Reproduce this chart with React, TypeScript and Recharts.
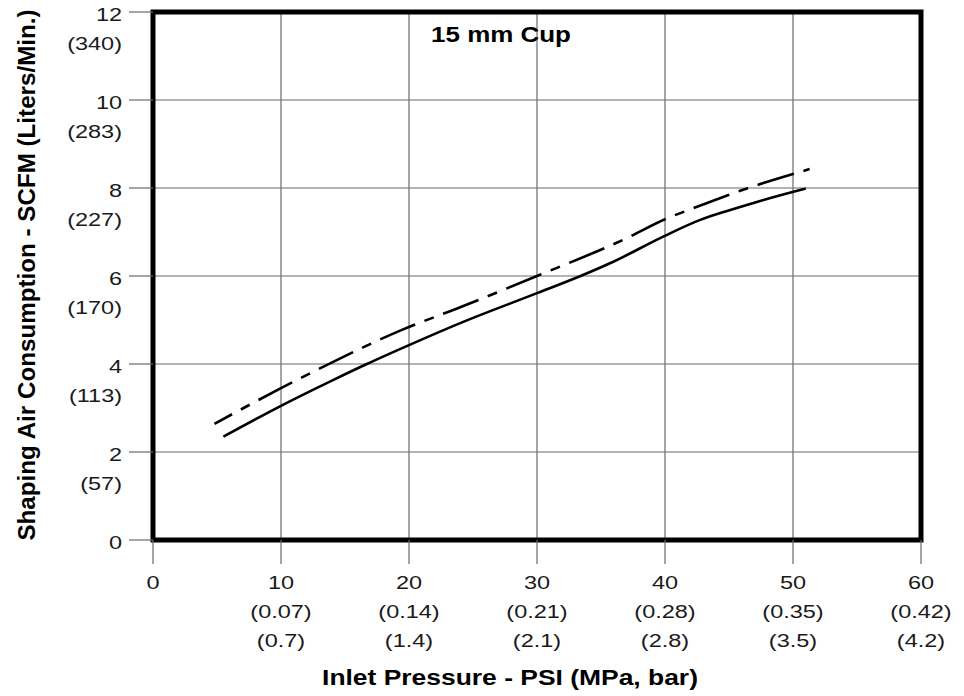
import { LineChart, Line, XAxis, YAxis, CartesianGrid, ReferenceArea } from 'recharts';

// axis ticks and secondary unit labels
const psiTicks = [0, 10, 20, 30, 40, 50, 60];
const mpaLabels = ['', '(0.07)', '(0.14)', '(0.21)', '(0.28)', '(0.35)', '(0.42)'];
const barLabels = ['', '(0.7)', '(1.4)', '(2.1)', '(2.8)', '(3.5)', '(4.2)'];
const scfmTicks = [0, 2, 4, 6, 8, 10, 12];
const litersLabels = ['', '(57)', '(113)', '(170)', '(227)', '(283)', '(340)'];

// solid curve
const solidPsi = [5.5, 10, 14.1, 16.7, 20, 24, 30, 33.4, 36, 39.9, 42.7, 45.1, 47.7, 51];
const solidScfm = [2.35, 3.05, 3.64, 4.0, 4.43, 4.93, 5.61, 6.0, 6.33, 6.9, 7.27, 7.5, 7.73, 7.99];

// dash-dot curve
const dashPsi = [4.8, 10, 13.6, 19.4, 24, 30, 37, 40, 42.2, 46.4, 51.3];
const dashScfm = [2.64, 3.45, 3.98, 4.77, 5.29, 6.0, 6.86, 7.29, 7.54, 7.99, 8.43];

const solidData = solidPsi.map((psi, i) => ({ psi, scfm: solidScfm[i] }));
const dashData = dashPsi.map((psi, i) => ({ psi, scfm: dashScfm[i] }));

const FONT = '"Liberation Sans", Arial, Helvetica, sans-serif';
const GRID = '#6a6a6a';

function XTick(props: any) {
  const { x, y, payload } = props;
  const i = psiTicks.indexOf(payload.value);
  const lines = [String(payload.value), mpaLabels[i], barLabels[i]].filter(Boolean);
  return (
    <g>
      {lines.map((t, k) => (
        <text
          key={k}
          transform={`translate(${x},${y + 25 + k * 29}) scale(1.27,1)`}
          textAnchor="middle"
          fontSize={18.5}
          fill="#1a1a1a"
          fontFamily={FONT}
        >
          {t}
        </text>
      ))}
    </g>
  );
}

function YTick(props: any) {
  const { x, y, payload } = props;
  const i = scfmTicks.indexOf(payload.value);
  const lines = [String(payload.value), litersLabels[i]].filter(Boolean);
  return (
    <g>
      {lines.map((t, k) => (
        <text
          key={k}
          transform={`translate(${x - 7},${y + 9 + k * 29}) scale(1.27,1)`}
          textAnchor="end"
          fontSize={18.5}
          fill="#1a1a1a"
          fontFamily={FONT}
        >
          {t}
        </text>
      ))}
    </g>
  );
}

export default function App() {
  return (
    <div style={{ position: 'absolute', left: 0, top: 0, background: '#fff' }}>
      <LineChart width={964} height={696} margin={{ top: 12, right: 43, bottom: 56, left: 93 }}>
        <CartesianGrid stroke={GRID} strokeWidth={1.2} />
        <XAxis
          dataKey="psi"
          type="number"
          domain={[0, 60]}
          ticks={psiTicks}
          height={100}
          axisLine={false}
          tickSize={24}
          tickMargin={0}
          tickLine={{ stroke: GRID, strokeWidth: 1.2 }}
          tick={<XTick />}
          interval={0}
        />
        <YAxis
          type="number"
          domain={[0, 12]}
          ticks={scfmTicks}
          width={60}
          axisLine={false}
          tickSize={24}
          tickMargin={0}
          tickLine={{ stroke: GRID, strokeWidth: 1.2 }}
          tick={<YTick />}
          interval={0}
        />
        <Line
          data={dashData}
          dataKey="scfm"
          type="monotone"
          stroke="#000"
          strokeWidth={2.6}
          strokeDasharray="38 10 10 10"
          strokeDashoffset={18}
          dot={false}
          activeDot={false}
          isAnimationActive={false}
        />
        <Line
          data={solidData}
          dataKey="scfm"
          type="monotone"
          stroke="#000"
          strokeWidth={2.6}
          dot={false}
          activeDot={false}
          isAnimationActive={false}
        />
        <ReferenceArea x1={0} x2={60} y1={0} y2={12} fill="none" stroke="#000" strokeWidth={5} />
        <text
          transform="translate(501,42) scale(1.18,1)"
          textAnchor="middle"
          fontSize={22}
          fontWeight="bold"
          fill="#000"
          fontFamily={FONT}
        >
          15 mm Cup
        </text>
        <text
          transform="translate(510,685) scale(1.23,1)"
          textAnchor="middle"
          fontSize={21.5}
          fontWeight="bold"
          fill="#000"
          fontFamily={FONT}
        >
          Inlet Pressure - PSI (MPa, bar)
        </text>
        <text
          transform="translate(35,275) rotate(-90)"
          textAnchor="middle"
          fontSize={24.2}
          fontWeight="bold"
          fill="#000"
          fontFamily={FONT}
        >
          Shaping Air Consumption - SCFM (Liters/Min.)
        </text>
      </LineChart>
    </div>
  );
}
